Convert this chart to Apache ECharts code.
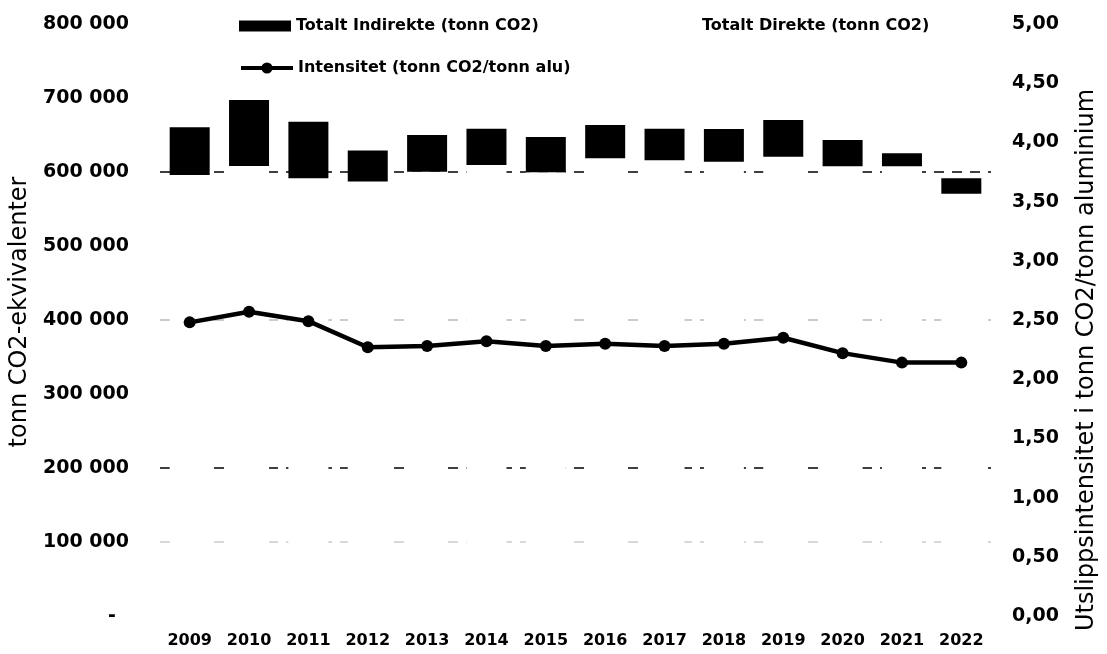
<!DOCTYPE html>
<html>
<head>
<meta charset="utf-8">
<script src="https://cdn.jsdelivr.net/npm/echarts@6/dist/echarts.min.js"></script>
<style>
  html, body { margin: 0; padding: 0; background: #fff; }
  #chart { width: 1107px; height: 654px; }
</style>
</head>
<body>
<div id="chart"></div>
<script>
const years = ['2009','2010','2011','2012','2013','2014','2015','2016','2017','2018','2019','2020','2021','2022'];
const direkte = [596000, 608000, 591500, 587000, 600400, 609500, 599600, 618500, 615800, 613900, 620700, 607700, 607700, 570700];
const indirekte = [64400, 89200, 76500, 41900, 49600, 49000, 47700, 45000, 42700, 44200, 49600, 35500, 17600, 20800];
const intensitet = [2.48, 2.57, 2.49, 2.27, 2.28, 2.32, 2.28, 2.30, 2.28, 2.30, 2.35, 2.22, 2.14, 2.14];

const nameInd = 'Totalt Indirekte (tonn CO2)';
const nameDir = 'Totalt Direkte (tonn CO2)';
const nameInt = 'Intensitet (tonn CO2/tonn alu)';

const FONT = 'DejaVu Sans';

function fmtLeft(v) {
  if (v === 0) return '-  ';
  return String(v).replace(/\B(?=(\d{3})+(?!\d))/g, ' ');
}
function fmtRight(v) {
  return v.toFixed(2).replace('.', ',');
}

const legendText = { fontFamily: FONT, fontSize: 16, fontWeight: 'bold', color: '#000' };

const chart = echarts.init(document.getElementById('chart'));
chart.setOption({
  animation: false,
  backgroundColor: '#fff',
  textStyle: { fontFamily: FONT, color: '#000' },
  grid: { left: 160, right: 113, top: 24, bottom: 38, containLabel: false },
  legend: [
    { data: [{ name: nameInd, icon: 'rect' }], left: 239, top: 18, padding: 0, itemWidth: 52, itemHeight: 11, itemGap: 0,
      textStyle: legendText },
    { data: [{ name: nameDir, icon: 'rect', itemStyle: { color: '#fff', borderWidth: 0 } }], left: 645, top: 18, padding: 0, itemWidth: 52, itemHeight: 11,
      textStyle: legendText },
    { data: [{ name: nameInt, lineStyle: { width: 4, color: '#000' } }], left: 239, top: 60, padding: 0, itemWidth: 52, itemHeight: 14,
      textStyle: legendText }
  ],
  xAxis: {
    type: 'category',
    data: years,
    axisLine: { show: false },
    axisTick: { show: false },
    axisLabel: { interval: 0, margin: 17, fontFamily: FONT, fontSize: 16, fontWeight: 'bold', color: '#000' }
  },
  yAxis: [
    {
      type: 'value', min: 0, max: 800000, interval: 100000,
      name: 'tonn CO2-ekvivalenter', nameLocation: 'middle', nameGap: 127,
      nameTextStyle: { fontFamily: FONT, fontSize: 24, color: '#000', padding: [0, 0, 0, 16] },
      axisLine: { show: false }, axisTick: { show: false },
      axisLabel: { margin: 31, formatter: fmtLeft, fontFamily: FONT, fontSize: 19, fontWeight: 'bold', color: '#000' },
      splitLine: { show: true, lineStyle: {
        color: ['rgba(0,0,0,0)', '#ccc', '#000', 'rgba(0,0,0,0)', '#bbb', 'rgba(0,0,0,0)', '#000', 'rgba(0,0,0,0)', 'rgba(0,0,0,0)'],
        type: [10, 8], width: 1.5 } }
    },
    {
      type: 'value', min: 0, max: 5, interval: 0.5,
      name: 'Utslippsintensitet i tonn CO2/tonn aluminium', nameLocation: 'middle', nameGap: 84,
      nameTextStyle: { fontFamily: FONT, fontSize: 24, color: '#000', padding: [0, 80, 0, 0] },
      axisLine: { show: false }, axisTick: { show: false },
      axisLabel: { margin: 21, formatter: fmtRight, fontFamily: FONT, fontSize: 19, fontWeight: 'bold', color: '#000' },
      splitLine: { show: false }
    }
  ],
  series: [
    { name: nameDir, type: 'bar', stack: 'tot', data: direkte, barWidth: 40,
      itemStyle: { color: '#fff' }, z: 2 },
    { name: nameInd, type: 'bar', stack: 'tot', data: indirekte, barWidth: 40,
      itemStyle: { color: '#000' }, z: 2 },
    { name: nameInt, type: 'line', yAxisIndex: 1, data: intensitet,
      symbol: 'circle', symbolSize: 12,
      lineStyle: { color: '#000', width: 4.5 }, itemStyle: { color: '#000' }, z: 5 }
  ]
});
</script>
</body>
</html>
